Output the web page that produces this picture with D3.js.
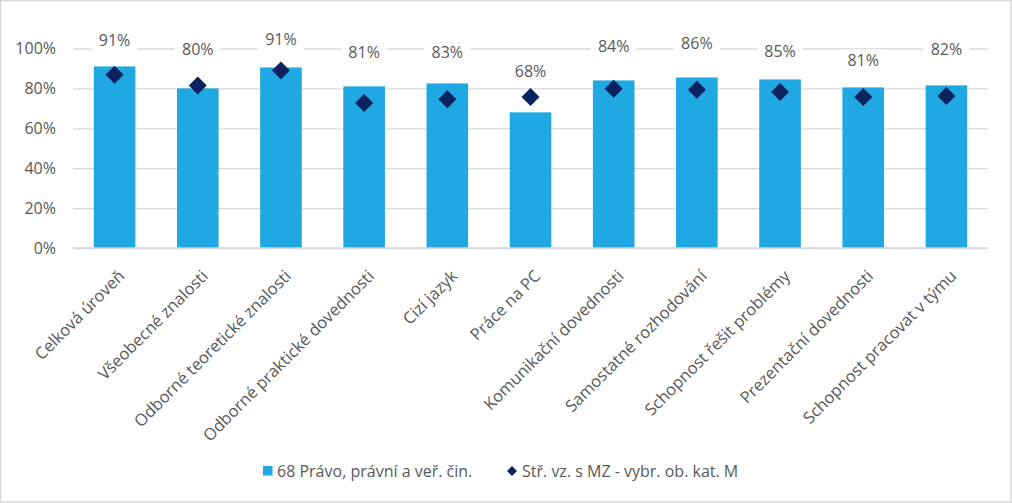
<!DOCTYPE html>
<html><head><meta charset="utf-8">
<script src="https://cdn.jsdelivr.net/npm/d3@7"></script>
<style>
body{margin:0;background:#fff;}
svg{display:block;font-family:"Open Sans",sans-serif;}
</style></head>
<body><svg id="c" width="1012" height="503"></svg>
<script>
const categories = ["Celková úroveň","Všeobecné znalosti","Odborné teoretické znalosti","Odborné praktické dovednosti","Cizí jazyk","Práce na PC","Komunikační dovednosti","Samostatné rozhodování","Schopnost řešit problémy","Prezentační dovednosti","Schopnost pracovat v týmu"];
const barValues = [0.91,0.80,0.905,0.81,0.825,0.68,0.84,0.855,0.845,0.805,0.815];
const barLabels = ["91%","80%","91%","81%","83%","68%","84%","86%","85%","81%","82%"];
const markerValues = [0.868,0.815,0.89,0.727,0.745,0.757,0.798,0.793,0.782,0.757,0.762];
const yTicks = [0,0.2,0.4,0.6,0.8,1.0];
const seriesNames = ["68 Právo, právní a veř. čin.","Stř. vz. s MZ - vybr. ob. kat. M"];
// label lift above bar top (px), manually placed labels in the original
const labelLift = [26,39,28,34,31,41,34,34,28,27,36];

const W=1012,H=503;
const svg=d3.select("#c");
const barColor="#1fa8e1", markColor="#0c2260", textColor="#595959", gridColor="#d9d9d9";
svg.append("rect").attr("x",0.5).attr("y",0.5).attr("width",W-1.5).attr("height",H-1.5).attr("fill","#fff").attr("stroke","#d9d9d9").attr("stroke-width",1.5);

const x=d3.scaleBand().domain(categories).range([73,988]).paddingInner(0.5).paddingOuter(0.25);
const y=d3.scaleLinear().domain([0,1]).range([248,48.5]);

// grid
const yAxis=d3.axisLeft(y).tickValues(yTicks).tickFormat(d3.format(".0%")).tickSize(-(988-73)).tickPadding(17);
const ga=svg.append("g").attr("transform","translate(73,0)").call(yAxis);
ga.select(".domain").remove();
ga.selectAll(".tick line").attr("stroke",gridColor).attr("stroke-width",1.3);
ga.selectAll(".tick text").attr("fill",textColor).attr("font-size",16).attr("font-family","Open Sans");

// bars
svg.append("g").selectAll("rect").data(categories).join("rect")
  .attr("x",d=>x(d)).attr("width",x.bandwidth())
  .attr("y",(d,i)=>y(barValues[i])).attr("height",(d,i)=>y(0)-y(barValues[i]))
  .attr("fill",barColor);

// x axis baseline
svg.append("line").attr("x1",73).attr("x2",988).attr("y1",y(0)).attr("y2",y(0)).attr("stroke",gridColor).attr("stroke-width",1.3);

// markers
const ds=9;
svg.append("g").selectAll("path").data(categories).join("path")
  .attr("transform",(d,i)=>`translate(${x(d)+x.bandwidth()/2},${y(markerValues[i])})`)
  .attr("d",`M0,${-ds}L${ds},0L0,${ds}L${-ds},0Z`).attr("fill",markColor);

// data labels with white background
const lg=svg.append("g");
categories.forEach((c,i)=>{
  const cx=x(c)+x.bandwidth()/2, cy=y(barValues[i])-labelLift[i];
  lg.append("rect").attr("x",cx-23).attr("y",cy-11).attr("width",46).attr("height",22).attr("fill","#fff");
  lg.append("text").attr("x",cx).attr("y",cy).attr("dy","0.35em").attr("text-anchor","middle")
    .attr("fill",textColor).attr("font-size",16).text(barLabels[i]);
});

// category labels
svg.append("g").selectAll("text").data(categories).join("text")
  .attr("transform",d=>`translate(${x(d)+x.bandwidth()/2+7},${y(0)+25}) rotate(-45)`)
  .attr("text-anchor","end").attr("dy","0.35em").attr("fill",textColor).attr("font-size",16.5).text(d=>d);

// legend
const leg=svg.append("g");
leg.append("rect").attr("x",263).attr("y",466).attr("width",9.5).attr("height",9.5).attr("fill",barColor);
leg.append("text").attr("x",277).attr("y",471).attr("dy","0.35em").attr("fill",textColor).attr("font-size",16).text(seriesNames[0]);
leg.append("path").attr("transform","translate(512,471)").attr("d","M0,-5L5,0L0,5L-5,0Z").attr("fill",markColor);
leg.append("text").attr("x",522).attr("y",471).attr("dy","0.35em").attr("fill",textColor).attr("font-size",16).text(seriesNames[1]);
</script></body></html>
